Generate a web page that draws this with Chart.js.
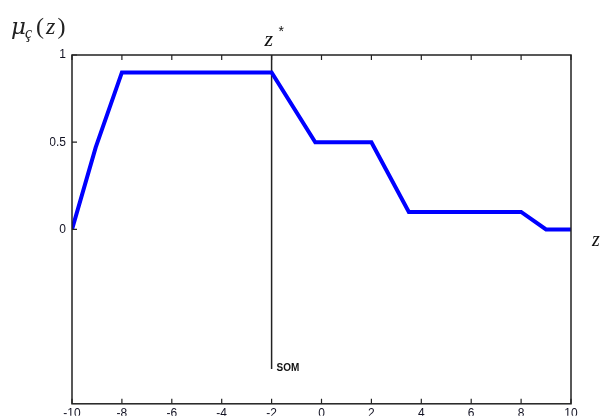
<!DOCTYPE html>
<html>
<head>
<meta charset="utf-8">
<script src="https://cdn.jsdelivr.net/npm/chart.js@4.4.0/dist/chart.umd.min.js"></script>
<style>
html,body{margin:0;padding:0;background:#fff;}
#wrap{width:600px;height:417px;position:relative;}
</style>
</head>
<body>
<div id="wrap"><canvas id="c" width="600" height="417"></canvas></div>
<script>
// ---- data ----
const zValues  = [-10, -9.05, -8, -2, -0.25, 2, 3.5, 8, 9, 10];
const muValues = [0, 0.47, 0.9, 0.9, 0.5, 0.5, 0.1, 0.1, 0, 0];
const xTickValues = [-10, -8, -6, -4, -2, 0, 2, 4, 6, 8, 10];
const xTickLabels = ['-10', '-8', '-6', '-4', '-2', '0', '2', '4', '6', '8', '10'];
const yTickValues = [0, 0.5, 1];
const yTickLabels = ['0', '0.5', '1'];
const zStar = -2;
const somLineY = [1, -0.8];
const somLabel = "SOM";

const curve = zValues.map((z, i) => ({x: z, y: muValues[i]}));
const somLine = somLineY.map(y => ({x: zStar, y: y}));

function seq(ctx, parts, x, y) {
  parts.forEach(p => {
    ctx.font = p.font;
    ctx.fillText(p.t, x + (p.dx || 0), y + (p.dy || 0));
    x += ctx.measureText(p.t).width + (p.dx || 0) + (p.after || 0);
  });
}

const frameAndTicks = {
  id: 'frameAndTicks',
  afterDatasetsDraw(chart) {
    const {ctx, chartArea: a, scales: {x, y}} = chart;
    ctx.save();
    ctx.strokeStyle = '#222';
    ctx.lineWidth = 1.5;
    ctx.strokeRect(a.left, a.top, a.right - a.left, a.bottom - a.top);
    ctx.lineWidth = 1.2;
    ctx.beginPath();
    xTickValues.forEach(v => {
      const px = x.getPixelForValue(v);
      ctx.moveTo(px, a.bottom); ctx.lineTo(px, a.bottom - 5);
      ctx.moveTo(px, a.top); ctx.lineTo(px, a.top + 5);
    });
    yTickValues.forEach(v => {
      const py = y.getPixelForValue(v);
      ctx.moveTo(a.left, py); ctx.lineTo(a.left + 5, py);
    });
    ctx.stroke();

    ctx.fillStyle = '#111';
    ctx.font = 'bold 10px "Liberation Sans", Arial, sans-serif';
    ctx.textBaseline = 'middle';
    ctx.textAlign = 'left';
    ctx.fillText(somLabel, x.getPixelForValue(zStar) + 5, y.getPixelForValue(somLineY[1]) - 1);

    const zx = x.getPixelForValue(zStar);
    ctx.textBaseline = 'alphabetic';
    ctx.font = 'italic 22px "Liberation Serif", serif';
    ctx.fillText('z', zx - 7, a.top - 9);
    ctx.font = '14px "Liberation Sans", sans-serif';
    ctx.fillText('*', zx + 7, a.top - 19);

    ctx.font = 'italic 20px "Liberation Serif", serif';
    ctx.fillText('z', a.right + 21, y.getPixelForValue(0) + 17);

    ctx.fillStyle = '#222';
    seq(ctx, [
      {t: '\u03bc', font: 'italic 23px "DejaVu Serif", serif', after: -1},
      {t: '\u00e7', font: 'italic 16px "Liberation Serif", serif', dy: 4, after: 4},
      {t: '(', font: '24px "Liberation Serif", serif', after: 2},
      {t: 'z', font: 'italic 24px "Liberation Serif", serif', after: 2},
      {t: ')', font: '24px "Liberation Serif", serif'}
    ], 11, 34);
    ctx.restore();
  }
};

const tickFont = {size: 12, family: '"Liberation Sans", Arial, sans-serif'};

new Chart(document.getElementById('c'), {
  type: 'scatter',
  data: {
    datasets: [
      {data: curve, showLine: true, borderColor: '#0000ff', borderWidth: 4,
       pointRadius: 0, borderJoinStyle: 'miter', tension: 0},
      {data: somLine, showLine: true, borderColor: '#222', borderWidth: 1.5,
       pointRadius: 0}
    ]
  },
  options: {
    responsive: false,
    animation: false,
    events: [],
    layout: {padding: {left: 50, right: 29, top: 55, bottom: 0}},
    plugins: {legend: {display: false}, tooltip: {enabled: false}},
    scales: {
      x: {
        type: 'linear', min: -10, max: 10,
        afterBuildTicks: s => { s.ticks = xTickValues.map(v => ({value: v})); },
        afterFit: s => { s.height = 12; },
        grid: {display: false, drawTicks: false},
        border: {display: false},
        ticks: {padding: 3, color: '#111122', font: tickFont, maxRotation: 0, autoSkip: false,
                callback: (v) => xTickLabels[xTickValues.indexOf(v)]}
      },
      y: {
        type: 'linear', min: -1, max: 1,
        afterBuildTicks: s => { s.ticks = yTickValues.map(v => ({value: v})); },
        afterFit: s => { s.width = 22; },
        grid: {display: false, drawTicks: false},
        border: {display: false},
        ticks: {padding: 6, color: '#111122', font: tickFont,
                callback: (v) => yTickLabels[yTickValues.indexOf(v)]}
      }
    }
  },
  plugins: [frameAndTicks]
});
</script>
</body>
</html>
